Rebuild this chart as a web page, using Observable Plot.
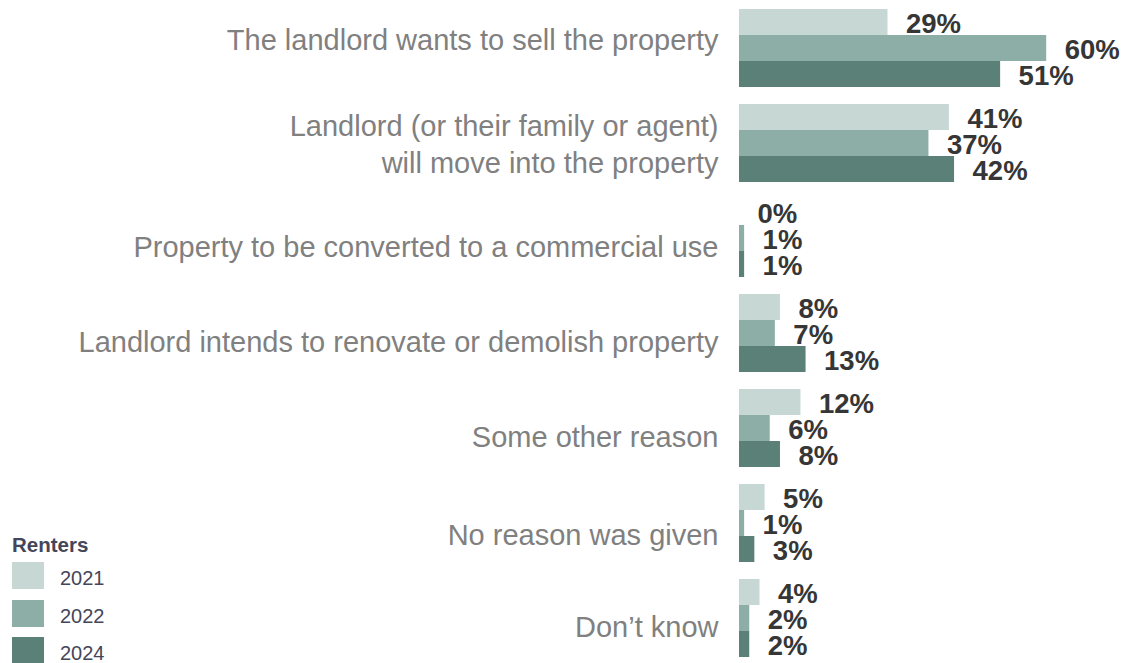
<!DOCTYPE html>
<html>
<head>
<meta charset="utf-8">
<script src="https://cdn.jsdelivr.net/npm/d3@7"></script>
<script src="https://cdn.jsdelivr.net/npm/@observablehq/plot@0.6"></script>
<style>
  html, body { margin: 0; padding: 0; background: #fff; }
  #wrap { position: relative; width: 1125px; height: 663px; font-family: "Liberation Sans", Arial, sans-serif; }
  #legend { position: absolute; left: 0; top: 0; width: 200px; height: 663px; color: #44465a; }
  #legend .title { position: absolute; left: 12px; top: 533px; font-weight: bold; font-size: 20.5px; }
  #legend .sw { position: absolute; left: 12px; width: 32px; height: 27px; }
  #legend .lab { position: absolute; left: 60px; font-size: 20px; line-height: 27px; }
</style>
</head>
<body>
<div id="wrap">
  <div id="chart"></div>
  <div id="legend"></div>
</div>
<script>
const categories = [
  "The landlord wants to sell the property",
  "Landlord (or their family or agent)\nwill move into the property",
  "Property to be converted to a commercial use",
  "Landlord intends to renovate or demolish property",
  "Some other reason",
  "No reason was given",
  "Don\u2019t know"
];
const years = ["2021", "2022", "2024"];
const values2021 = [29, 41, 0, 8, 12, 5, 4];
const values2022 = [60, 37, 1, 7, 6, 1, 2];
const values2024 = [51, 42, 1, 13, 8, 3, 2];
const colors = ["#c7d8d4", "#8daea6", "#5b8077"];
const legendTitle = "Renters";

const series = [values2021, values2022, values2024];
const data = [];
categories.forEach((c, i) => {
  years.forEach((y, j) => data.push({category: c, year: y, value: series[j][i]}));
});

// vertical nudges of the category labels (style only)
const labelNudge = [-10, 0, 7.5, 7.5, 7, 10, 7.5];

const chart = Plot.plot({
  width: 1125,
  height: 663,
  marginLeft: 739,
  marginRight: 2,
  marginTop: 8,
  marginBottom: 6,
  style: {fontFamily: "'Liberation Sans', Arial, sans-serif", background: "#fff"},
  x: {domain: [0, 75], axis: null},
  y: {domain: years, axis: null, padding: 0},
  fy: {domain: categories, paddingInner: 16 / 95, paddingOuter: 0, label: null, axis: null},
  color: {domain: years, range: colors},
  marks: [
    Plot.barX(data, {x: "value", y: "year", fy: "category", fill: "year"}),
    Plot.text(data, {
      x: "value", y: "year", fy: "category",
      text: d => d.value + "%",
      textAnchor: "start", dx: 18, dy: 2,
      fontSize: 27.5, fontWeight: "bold", fill: "#363636"
    }),
    ...categories.map((c, i) => Plot.axisFy({
      ticks: [c], anchor: "left", tickSize: 0, tickPadding: 21, label: null,
      fontSize: 29, fill: "#808080", lineHeight: 1.25, dy: labelNudge[i]
    }))
  ]
});
document.getElementById("chart").appendChild(chart);

const legend = document.getElementById("legend");
const t = document.createElement("div");
t.className = "title";
t.textContent = legendTitle;
legend.appendChild(t);
const swTops = [562, 599.5, 637];
years.forEach((y, i) => {
  const sw = document.createElement("div");
  sw.className = "sw";
  sw.style.top = swTops[i] + "px";
  sw.style.background = colors[i];
  const lab = document.createElement("div");
  lab.className = "lab";
  lab.style.top = (swTops[i] + 3) + "px";
  lab.textContent = y;
  legend.appendChild(sw);
  legend.appendChild(lab);
});
</script>
</body>
</html>
